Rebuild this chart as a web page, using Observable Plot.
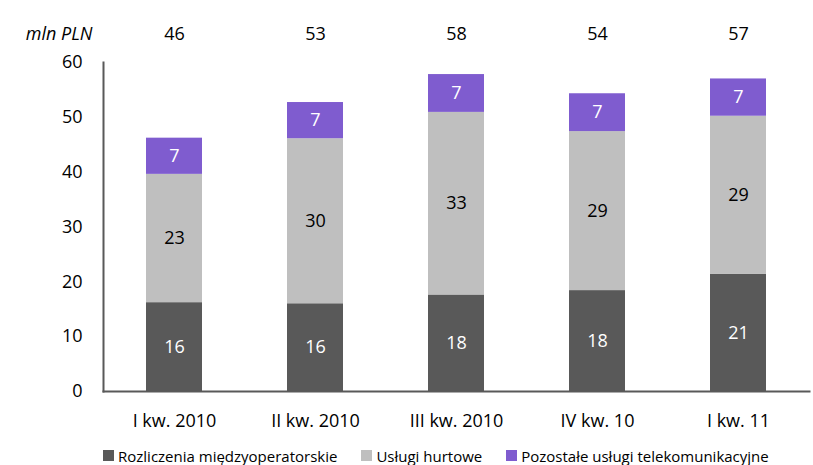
<!DOCTYPE html>
<html>
<head>
<meta charset="utf-8">
<script src="https://cdn.jsdelivr.net/npm/d3@7"></script>
<script src="https://cdn.jsdelivr.net/npm/@observablehq/plot@0.6"></script>
<style>
  body { margin: 0; background: #fff; font-family: "Open Sans", sans-serif; }
  #chart svg { display: block; }
  .legend { display: flex; align-items: center; font-size: 15px; color: #000; padding-left: 103px; height: 25px; margin-top: 3px; }
  .legend .item { display: flex; align-items: center; margin-right: 24px; }
  .legend .sw { width: 11px; height: 11px; margin-right: 4px; }
</style>
</head>
<body>
<div id="chart"></div>
<div class="legend" id="legend"></div>
<script>
const categories = ["I kw. 2010", "II kw. 2010", "III kw. 2010", "IV kw. 10", "I kw. 11"];
const seriesNames = ["Rozliczenia międzyoperatorskie", "Usługi hurtowe", "Pozostałe usługi telekomunikacyjne"];
const rozliczenia = [16.2, 16.0, 17.6, 18.4, 21.4];
const hurtowe = [23.4, 30.1, 33.3, 29.0, 28.8];
const pozostale = [6.6, 6.6, 6.9, 6.9, 6.8];
const colors = ["#595959", "#bfbfbf", "#7f5ccf"];
const labelColors = ["#ffffff", "#000000", "#ffffff"];
const yTicks = [0, 10, 20, 30, 40, 50, 60];

const series = [rozliczenia, hurtowe, pozostale];
const data = [];
series.forEach((vals, s) => vals.forEach((v, i) => data.push({cat: categories[i], series: seriesNames[s], value: v, s})));
const totals = categories.map((c, i) => ({cat: c, total: series.reduce((a, vals) => a + vals[i], 0)}));

const chart = Plot.plot({
  width: 813,
  height: 440,
  marginTop: 62,
  marginBottom: 49,
  marginLeft: 103,
  marginRight: 4,
  style: {fontFamily: "Open Sans, sans-serif", fontSize: "18px", color: "#000"},
  x: {domain: categories, paddingInner: 0.6, paddingOuter: 0.3, label: null},
  y: {domain: [0, 60], label: null},
  color: {domain: seriesNames, range: colors},
  marks: [
    Plot.barY(data, {x: "cat", y: "value", fill: "series", order: seriesNames}),
    Plot.text(data, Plot.stackY({x: "cat", y: "value", z: "series", order: seriesNames,
      text: d => Math.round(d.value), fill: d => labelColors[d.s], fontSize: 18})),
    Plot.text(totals, {x: "cat", text: d => Math.round(d.total), frameAnchor: "top", dy: -35, fontSize: 18, fill: "#000"}),
    Plot.text(["mln PLN"], {frameAnchor: "top-left", dx: -11, dy: -35, textAnchor: "end", fontStyle: "italic", fontSize: 18, fill: "#000"}),
    Plot.axisY({ticks: yTicks, tickSize: 0, tickPadding: 21, fontSize: 18, label: null}),
    Plot.axisX({tickSize: 0, tickPadding: 23, fontSize: 18, label: null}),
    Plot.frame({anchor: "left", stroke: "#595959", strokeWidth: 2}),
    Plot.frame({anchor: "bottom", stroke: "#595959", strokeWidth: 2})
  ]
});
document.getElementById("chart").appendChild(chart);

const legend = document.getElementById("legend");
seriesNames.forEach((name, i) => {
  const item = document.createElement("div");
  item.className = "item";
  const sw = document.createElement("span");
  sw.className = "sw";
  sw.style.background = colors[i];
  const t = document.createElement("span");
  t.textContent = name;
  item.appendChild(sw); item.appendChild(t);
  legend.appendChild(item);
});
</script>
</body>
</html>
